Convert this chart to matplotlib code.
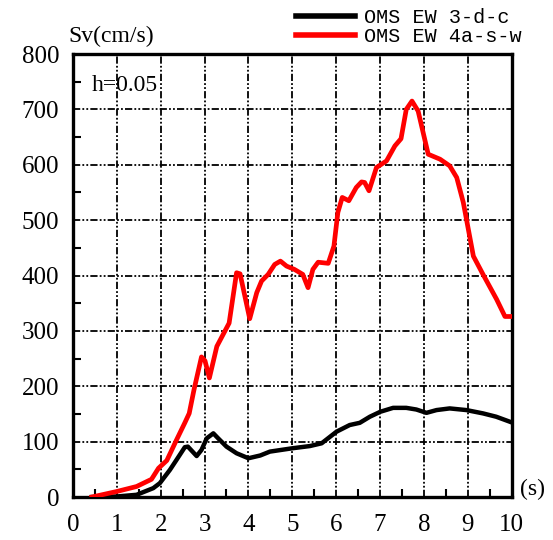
import matplotlib.pyplot as plt
from matplotlib.ticker import MultipleLocator

# Sv spectra
period_red = [0.43, 1.0, 1.45, 1.79, 1.95, 2.14, 2.36, 2.55, 2.65, 2.76, 2.93, 3.01,
              3.11, 3.28, 3.46, 3.56, 3.73, 3.81, 4.03, 4.19, 4.3, 4.45, 4.6, 4.73,
              4.87, 5.05, 5.24, 5.36, 5.47, 5.59, 5.82, 5.95, 6.04, 6.14, 6.29, 6.46,
              6.58, 6.65, 6.75, 6.92, 7.15, 7.34, 7.48, 7.6, 7.73, 7.87, 8.1, 8.37,
              8.59, 8.75, 8.9, 9.13, 9.35, 9.66, 9.85, 10.0]
sv_red = [0, 10, 19, 32, 52, 66, 103, 134, 151, 194, 253, 246,
          215, 272, 299, 314, 405, 403, 322, 369, 390, 402, 420, 426,
          417, 411, 402, 378, 411, 424, 422, 453, 514, 541, 535, 559,
          569, 568, 553, 595, 607, 634, 647, 700, 715, 697, 619, 610,
          598, 577, 532, 435, 402, 357, 326, 326]

period_black = [0.43, 1.0, 1.45, 1.83, 1.98, 2.21, 2.36, 2.55, 2.62, 2.82, 2.93, 3.05,
                3.2, 3.31, 3.5, 3.73, 4.0, 4.27, 4.49, 5.0, 5.4, 5.67, 6.01, 6.31,
                6.54, 6.77, 7.01, 7.3, 7.6, 7.83, 8.06, 8.29, 8.59, 8.97, 9.35, 9.65,
                9.96]
sv_black = [0, 1, 4, 16, 25, 49, 67, 90, 91, 74, 85, 106,
            115, 106, 91, 79, 70, 75, 82, 88, 92, 97, 118, 130,
            134, 145, 154, 161, 161, 158, 152, 157, 160, 157, 151, 145,
            136]

labels = ['OMS EW 3-d-c', 'OMS EW 4a-s-w']
x_ticks = list(range(0, 11))
y_ticks = list(range(0, 801, 100))

plt.rcParams['font.family'] = 'Liberation Serif'

fig = plt.figure(figsize=(5.53, 5.40), dpi=100)
ax = fig.add_axes([0.132, 0.0796, 0.793, 0.8204])

ax.plot(period_black, sv_black, color='black', lw=3.2, label=labels[0], zorder=3)
ax.plot(period_red, sv_red, color='#ff0000', lw=3.4, label=labels[1], zorder=4)

ax.set_xlim(0, 10)
ax.set_ylim(0, 800)
ax.set_xticks(x_ticks)
ax.set_yticks(y_ticks)
ax.xaxis.set_minor_locator(MultipleLocator(0.5))
ax.yaxis.set_minor_locator(MultipleLocator(50))
ax.tick_params(which='major', length=0, labelsize=18, pad=10)
ax.tick_params(which='minor', direction='in', length=6, width=1.5)
ax.tick_params(axis='x', which='major', pad=12)
ax.grid(True, which='major', color='black', lw=1.3,
        linestyle=(0, (4, 1.2, 1, 1.2, 1, 1.2)))
for sp in ax.spines.values():
    sp.set_linewidth(2.4)

fig.text(0.123, 0.932, 'Sv(cm/s)', fontsize=17, ha='left', va='center')
fig.text(0.940, 0.093, '(s)', fontsize=17, ha='left', va='center')
ax.text(0.43, 744, 'h=0.05', fontsize=17, ha='left', va='center')

leg = fig.legend(loc='upper left', bbox_to_anchor=(0.51, 1.012), frameon=False,
                 prop={'family': 'Liberation Mono', 'size': 14.5},
                 handlelength=2.9, handletextpad=0.45, labelspacing=0.02,
                 borderpad=0.2)
for ln in leg.get_lines():
    ln.set_linewidth(4)

fig.savefig('out.png', dpi=100)
